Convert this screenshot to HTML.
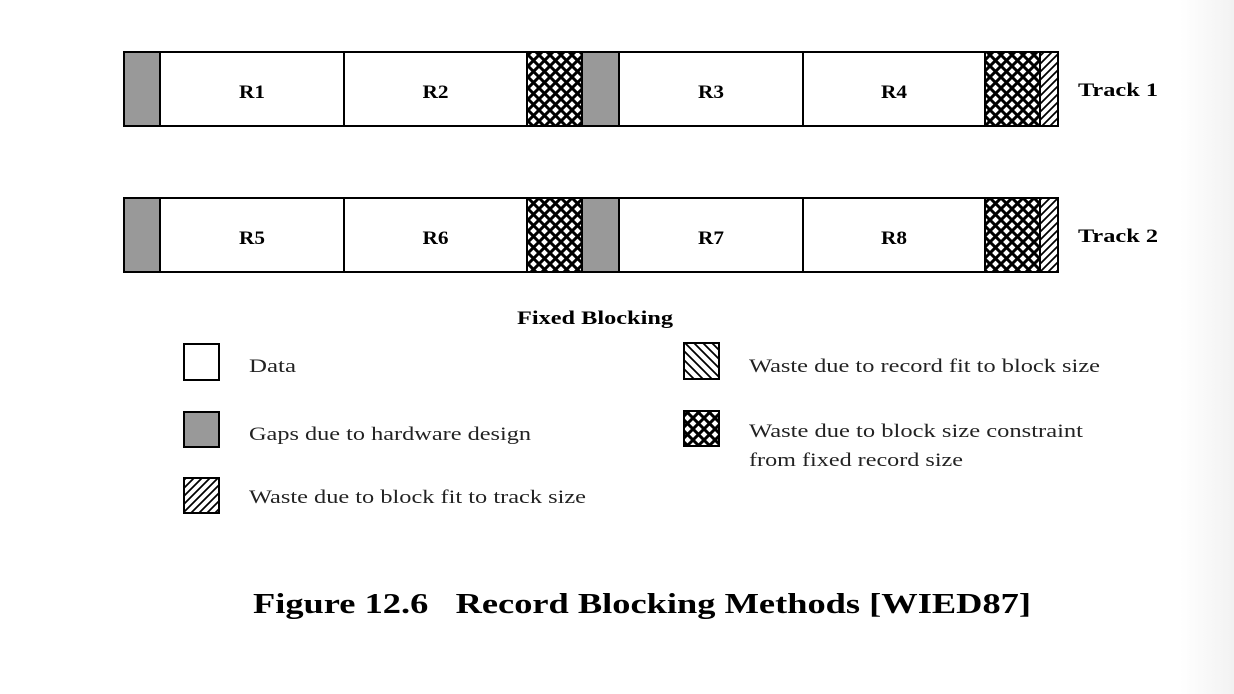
<!DOCTYPE html>
<html><head><meta charset="utf-8"><style>
html,body{margin:0;padding:0;background:#fff;}
svg{display:block;font-family:"Liberation Serif",serif;}
</style></head><body>
<svg width="1234" height="694" viewBox="0 0 1234 694">
<defs>
<linearGradient id="edge" x1="0" x2="1" y1="0" y2="0"><stop offset="0" stop-color="#fff"/><stop offset="1" stop-color="#f2f2f2"/></linearGradient>
<pattern id="cross" width="11" height="11" patternUnits="userSpaceOnUse"><rect width="11" height="11" fill="#fff"/><path d="M0,0L11,11M11,0L0,11M-1,10L1,12M10,-1L12,1" stroke="#000" stroke-width="3"/></pattern>
<pattern id="fwd" width="8" height="8" patternUnits="userSpaceOnUse"><rect width="8" height="8" fill="#fff"/><path d="M-2,10L10,-2M-2,2L2,-2M6,10L10,6" stroke="#000" stroke-width="1.8"/></pattern>
<pattern id="back" width="9" height="9" patternUnits="userSpaceOnUse"><rect width="9" height="9" fill="#fff"/><path d="M-2,-2L11,11M-2,7L2,11M7,-2L11,2" stroke="#000" stroke-width="1.8"/></pattern>
</defs>
<rect x="1180" y="0" width="54" height="694" fill="url(#edge)"/>
<g id="tracks"></g>
<text x="517" y="324" textLength="156" lengthAdjust="spacingAndGlyphs" font-weight="bold" font-size="19">Fixed Blocking</text>
<g font-size="19" fill="#222">
<rect x="184" y="344" width="35" height="36" fill="#fff" stroke="#000" stroke-width="2"/>
<text x="249" y="372" textLength="47" lengthAdjust="spacingAndGlyphs">Data</text>
<rect x="184" y="412" width="35" height="35" fill="#999" stroke="#000" stroke-width="2"/>
<text x="249" y="440" textLength="282" lengthAdjust="spacingAndGlyphs">Gaps due to hardware design</text>
<rect x="184" y="478" width="35" height="35" fill="url(#fwd)" stroke="#000" stroke-width="2"/>
<text x="249" y="503" textLength="337" lengthAdjust="spacingAndGlyphs">Waste due to block fit to track size</text>
<rect x="684" y="343" width="35" height="36" fill="url(#back)" stroke="#000" stroke-width="2"/>
<text x="749" y="372" textLength="351" lengthAdjust="spacingAndGlyphs">Waste due to record fit to block size</text>
<rect x="684" y="411" width="35" height="35" fill="url(#cross)" stroke="#000" stroke-width="2"/>
<text x="749" y="437" textLength="334" lengthAdjust="spacingAndGlyphs">Waste due to block size constraint</text>
<text x="749" y="466" textLength="214" lengthAdjust="spacingAndGlyphs">from fixed record size</text>
</g>
<text x="253" y="613" textLength="778" lengthAdjust="spacingAndGlyphs" font-weight="bold" font-size="29">Figure 12.6&#160;&#160; Record Blocking Methods [WIED87]</text>
</svg>
<script>
const trackNames = ["Track 1", "Track 2"];
const trackRecords = [["R1","R2","R3","R4"],["R5","R6","R7","R8"]];
const segKinds = ["gap","data","data","cross","gap","data","data","cross","fwd"];
const segWidths = [36,184,183,55,37,184,182,55,18];
const trackTops = [52,198];
const NS="http://www.w3.org/2000/svg";
const g=document.getElementById('tracks');
const fills={gap:"#999",data:"#fff",cross:"url(#cross)",fwd:"url(#fwd)"};
function mk(t,a){const e=document.createElementNS(NS,t);for(const k in a)e.setAttribute(k,a[k]);return e;}
trackNames.forEach((name,ti)=>{
  const y=trackTops[ti],h=74;let x=124,ri=0;
  segKinds.forEach((k,si)=>{
    const w=segWidths[si];
    const r=mk('rect',{x:x,y:y,width:w,height:h,fill:fills[k],stroke:"#000","stroke-width":2});
    
    
    g.appendChild(r);
    if(k==="data"){
      const t=mk('text',{x:x+w/2-13,y:y+h/2+9,textLength:26,lengthAdjust:"spacingAndGlyphs","font-weight":"bold","font-size":"19"});
      t.textContent=trackRecords[ti][ri++];
      
      
      g.appendChild(t);
    }
    x+=w;
  });
  const lbl=mk('text',{x:1078,y:y+h/2+7,textLength:80,lengthAdjust:"spacingAndGlyphs","font-weight":"bold","font-size":"19"});
  lbl.textContent=name;
  
  
  g.appendChild(lbl);
});
</script>
</body></html>
